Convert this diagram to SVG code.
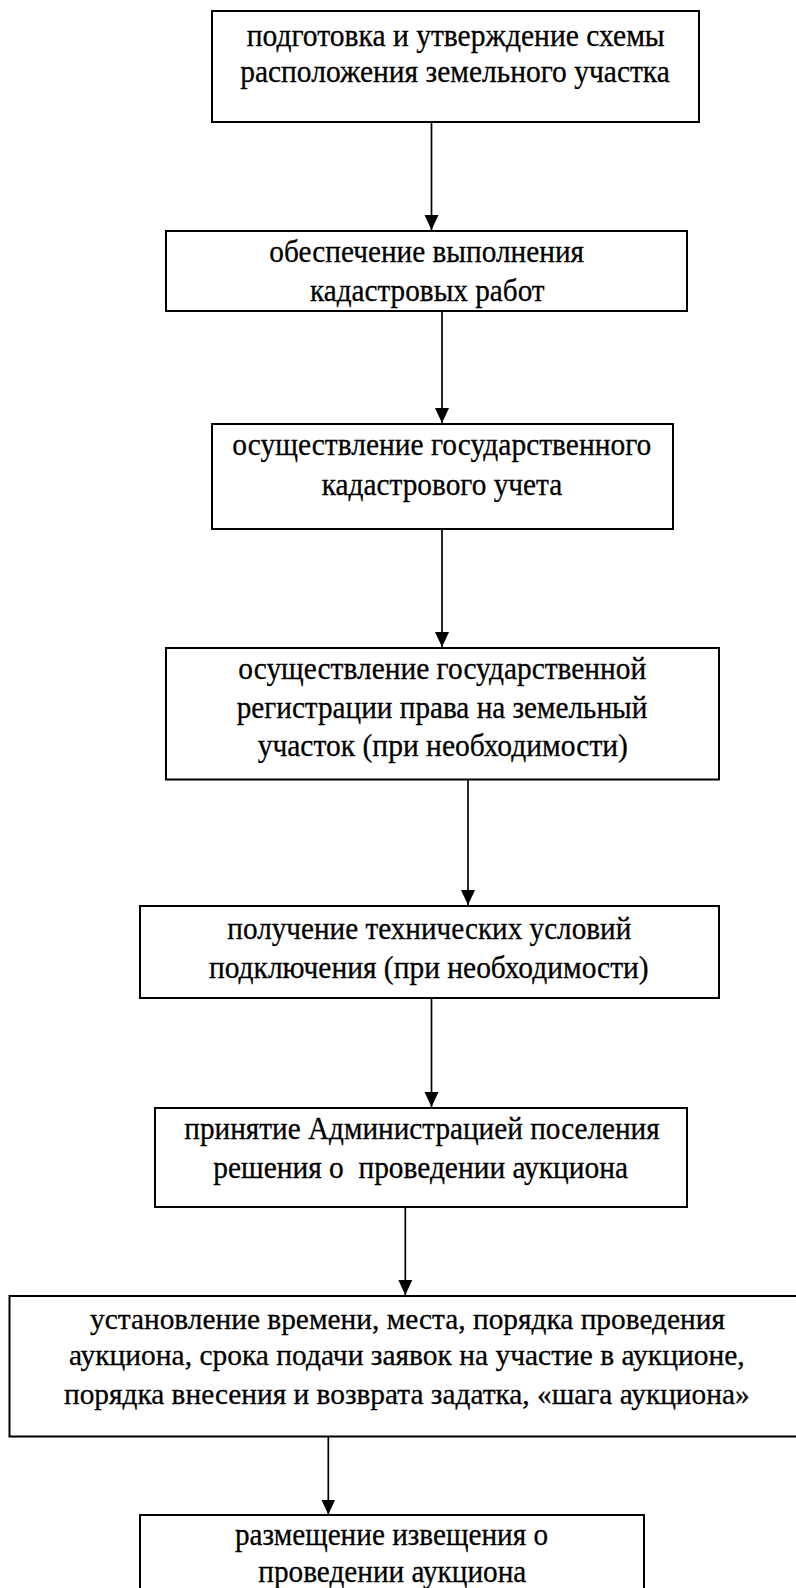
<svg xmlns="http://www.w3.org/2000/svg" width="796" height="1588" viewBox="0 0 796 1588">
<style>
.box{fill:#fff;stroke:#000;stroke-width:2}
.t{font-family:"Liberation Serif","Times New Roman",serif;font-size:32px;fill:#000;stroke:#000;stroke-width:0.3;text-anchor:middle}
.s{font-size:30px}
.c{stroke:#000;stroke-width:1.7;fill:none}
</style>
<defs>
<marker id="ah" markerUnits="userSpaceOnUse" markerWidth="16" markerHeight="16" viewBox="0 -8 16 16" refX="15" refY="0" orient="auto">
<path d="M0,-7 L15,0 L0,7 Z" fill="#000"/>
</marker>
</defs>
<rect width="796" height="1588" fill="#fff"/>
<g id="connectors">
<line class="c" x1="431.5" y1="122" x2="431.5" y2="230" marker-end="url(#ah)"/>
<line class="c" x1="442" y1="311" x2="442" y2="423" marker-end="url(#ah)"/>
<line class="c" x1="442" y1="529" x2="442" y2="647" marker-end="url(#ah)"/>
<line class="c" x1="468" y1="779.5" x2="468" y2="905" marker-end="url(#ah)"/>
<line class="c" x1="431.5" y1="998" x2="431.5" y2="1107" marker-end="url(#ah)"/>
<line class="c" x1="405.3" y1="1207" x2="405.3" y2="1295" marker-end="url(#ah)"/>
<line class="c" x1="328.3" y1="1436.5" x2="328.3" y2="1514.5" marker-end="url(#ah)"/>
</g>
<g id="n1">
<rect class="box" x="212" y="11" width="487" height="111"/>
<text class="t" x="455.7" y="46" textLength="418" lengthAdjust="spacingAndGlyphs">подготовка и утверждение схемы</text>
<text class="t" x="455" y="81.5" textLength="429.7" lengthAdjust="spacingAndGlyphs">расположения земельного участка</text>
</g>
<g id="n2">
<rect class="box" x="166" y="231" width="521" height="80"/>
<text class="t" x="426.7" y="262" textLength="314.7" lengthAdjust="spacingAndGlyphs">обеспечение выполнения</text>
<text class="t" x="427.3" y="301" textLength="234.7" lengthAdjust="spacingAndGlyphs">кадастровых работ</text>
</g>
<g id="n3">
<rect class="box" x="212" y="424" width="461" height="105"/>
<text class="t" x="441.8" y="455" textLength="419" lengthAdjust="spacingAndGlyphs">осуществление государственного</text>
<text class="t" x="442" y="495" textLength="240.6" lengthAdjust="spacingAndGlyphs">кадастрового учета</text>
</g>
<g id="n4">
<rect class="box" x="166" y="648" width="553" height="131.5"/>
<text class="t" x="442.3" y="678.7" textLength="408" lengthAdjust="spacingAndGlyphs">осуществление государственной</text>
<text class="t" x="442" y="717.6" textLength="410.6" lengthAdjust="spacingAndGlyphs">регистрации права на земельный</text>
<text class="t" x="442.8" y="755.8" textLength="370.3" lengthAdjust="spacingAndGlyphs">участок (при необходимости)</text>
</g>
<g id="n5">
<rect class="box" x="140" y="906" width="579" height="92"/>
<text class="t" x="429.3" y="939" textLength="404" lengthAdjust="spacingAndGlyphs">получение технических условий</text>
<text class="t" x="428.8" y="978" textLength="439.7" lengthAdjust="spacingAndGlyphs">подключения (при необходимости)</text>
</g>
<g id="n6">
<rect class="box" x="155" y="1108" width="532" height="99"/>
<text class="t" x="422" y="1139" textLength="475.4" lengthAdjust="spacingAndGlyphs">принятие Администрацией поселения</text>
<text class="t" x="420.6" y="1178" textLength="414.7" lengthAdjust="spacingAndGlyphs" xml:space="preserve">решения о  проведении аукциона</text>
</g>
<g id="n7">
<rect class="box" x="9.5" y="1296" width="787.5" height="140.5"/>
<text class="t s" x="407.5" y="1328.5" textLength="635" lengthAdjust="spacingAndGlyphs">установление времени, места, порядка проведения</text>
<text class="t s" x="406.8" y="1365" textLength="675.7" lengthAdjust="spacingAndGlyphs">аукциона, срока подачи заявок на участие в аукционе,</text>
<text class="t s" x="406.8" y="1403.5" textLength="685.7" lengthAdjust="spacingAndGlyphs">порядка внесения и возврата задатка, «шага аукциона»</text>
</g>
<g id="n8">
<rect class="box" x="140" y="1515" width="504" height="100"/>
<text class="t" x="391.5" y="1544.5" textLength="313" lengthAdjust="spacingAndGlyphs">размещение извещения о</text>
<text class="t" x="392.3" y="1582" textLength="268" lengthAdjust="spacingAndGlyphs">проведении аукциона</text>
</g>
</svg>
